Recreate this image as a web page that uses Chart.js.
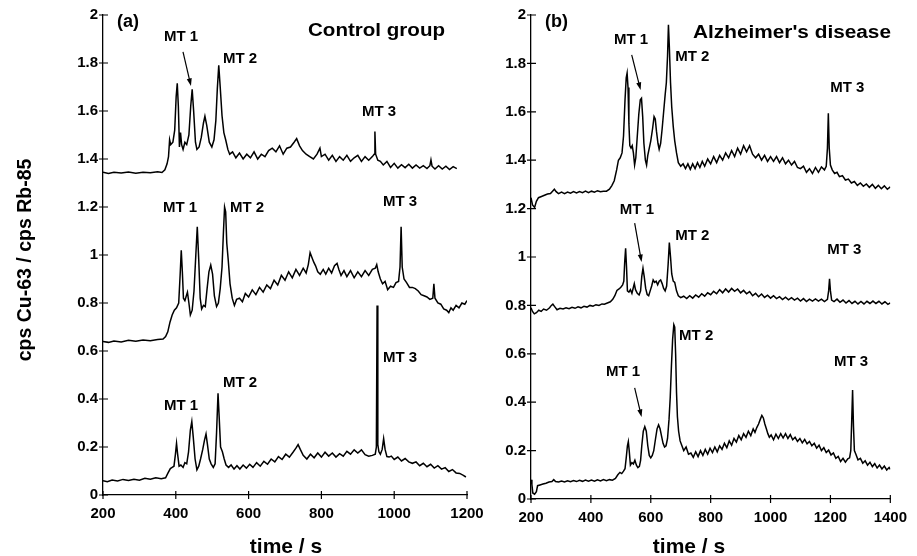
<!DOCTYPE html>
<html>
<head>
<meta charset="utf-8">
<script src="https://cdn.jsdelivr.net/npm/chart.js@4.4.0/dist/chart.umd.min.js"></script>
<style>
  html, body { margin: 0; background: #fff; }
  #wrap { position: relative; width: 917px; height: 556px; overflow: hidden; }
  canvas { position: absolute; top: 0; }
  #left  { left: 0; }
  #right { left: 480px; }
</style>
</head>
<body>
<div id="wrap">
  <canvas id="left" width="500" height="556"></canvas>
  <canvas id="right" width="437" height="556"></canvas>
</div>
<script>
'use strict';

// ── Data (time / s, cps Cu-63 / cps Rb-85) ────────────
const yTicks      = [0, 0.2, 0.4, 0.6, 0.8, 1, 1.2, 1.4, 1.6, 1.8, 2];
const yTickLabels = ['0', '0.2', '0.4', '0.6', '0.8', '1', '1.2', '1.4', '1.6', '1.8', '2'];
const xTicksCtrl  = [200, 400, 600, 800, 1000, 1200];
const xTicksAd    = [200, 400, 600, 800, 1000, 1200, 1400];

// (a) control group, three traces
const ctrlTop = [[200,1.345],[215,1.34],[230,1.345],[250,1.342],[270,1.346],[290,1.341],[310,1.345],[330,1.343],[350,1.347],[362,1.344],[370,1.355],[376,1.38],[380,1.41],[383,1.48],[386,1.46],[392,1.47],[397,1.52],[401,1.66],[404,1.715],[407,1.62],[410,1.45],[413,1.51],[416,1.46],[420,1.44],[425,1.47],[430,1.46],[436,1.5],[441,1.62],[445,1.69],[449,1.6],[454,1.47],[458,1.44],[464,1.45],[470,1.49],[476,1.55],[480,1.578],[485,1.54],[492,1.47],[499,1.45],[505,1.48],[510,1.56],[514,1.69],[518,1.79],[522,1.7],[527,1.58],[532,1.51],[537,1.48],[543,1.44],[548,1.42],[556,1.43],[565,1.405],[575,1.425],[585,1.4],[595,1.42],[605,1.405],[615,1.43],[625,1.4],[635,1.42],[645,1.41],[655,1.435],[665,1.445],[675,1.43],[685,1.455],[695,1.42],[705,1.445],[715,1.45],[725,1.47],[732,1.485],[740,1.455],[748,1.435],[758,1.42],[768,1.41],[778,1.4],[788,1.42],[796,1.445],[800,1.41],[810,1.42],[820,1.395],[830,1.415],[840,1.39],[850,1.41],[860,1.395],[870,1.415],[880,1.39],[890,1.405],[900,1.415],[910,1.39],[920,1.41],[930,1.395],[940,1.41],[945,1.42],[947,1.515],[949,1.42],[955,1.395],[962,1.39],[970,1.375],[980,1.39],[990,1.365],[1000,1.382],[1010,1.362],[1020,1.376],[1030,1.364],[1040,1.378],[1050,1.362],[1060,1.375],[1070,1.362],[1080,1.372],[1090,1.36],[1098,1.372],[1101,1.396],[1104,1.37],[1112,1.358],[1122,1.372],[1132,1.358],[1142,1.37],[1152,1.356],[1162,1.368],[1172,1.36]];
const ctrlMid = [[200,0.64],[215,0.636],[230,0.642],[250,0.638],[270,0.645],[290,0.641],[310,0.646],[330,0.643],[350,0.648],[365,0.65],[372,0.66],[378,0.68],[384,0.72],[390,0.75],[396,0.77],[402,0.78],[408,0.8],[412,0.92],[415,1.02],[418,0.93],[421,0.82],[425,0.81],[429,0.83],[432,0.845],[436,0.8],[440,0.75],[445,0.77],[450,0.85],[455,1.0],[459,1.118],[463,0.98],[467,0.82],[471,0.775],[476,0.79],[481,0.785],[486,0.86],[491,0.93],[496,0.958],[501,0.92],[506,0.83],[512,0.785],[517,0.8],[522,0.86],[527,0.95],[531,1.1],[534,1.2],[537,1.18],[540,1.05],[544,0.98],[549,0.88],[555,0.82],[561,0.79],[567,0.815],[575,0.82],[583,0.805],[591,0.84],[600,0.825],[610,0.855],[620,0.835],[630,0.865],[640,0.845],[650,0.875],[660,0.86],[670,0.895],[680,0.875],[690,0.915],[700,0.895],[710,0.93],[720,0.905],[730,0.94],[740,0.915],[750,0.945],[758,0.925],[764,0.96],[769,1.01],[774,0.99],[779,0.97],[784,0.955],[790,0.93],[797,0.92],[805,0.94],[812,0.92],[820,0.945],[828,0.925],[836,0.955],[843,0.965],[848,0.94],[854,0.915],[862,0.935],[870,0.91],[880,0.935],[890,0.905],[900,0.93],[910,0.91],[920,0.935],[930,0.915],[940,0.94],[948,0.945],[952,0.96],[956,0.93],[962,0.9],[968,0.88],[975,0.89],[982,0.855],[990,0.87],[998,0.865],[1005,0.885],[1012,0.89],[1016,0.95],[1019,1.118],[1022,0.95],[1027,0.9],[1034,0.885],[1042,0.865],[1050,0.865],[1058,0.86],[1066,0.85],[1074,0.835],[1082,0.83],[1090,0.825],[1098,0.815],[1106,0.82],[1109,0.88],[1112,0.82],[1120,0.8],[1128,0.795],[1136,0.775],[1144,0.77],[1150,0.76],[1156,0.78],[1162,0.77],[1170,0.79],[1178,0.78],[1186,0.8],[1194,0.795],[1200,0.81]];
const ctrlBot = [[200,0.06],[212,0.055],[225,0.062],[240,0.058],[255,0.065],[270,0.06],[285,0.066],[300,0.062],[315,0.07],[330,0.066],[345,0.072],[360,0.068],[372,0.072],[378,0.09],[385,0.11],[390,0.115],[395,0.12],[399,0.17],[402,0.215],[405,0.17],[409,0.12],[414,0.125],[420,0.115],[425,0.135],[430,0.13],[435,0.18],[440,0.27],[444,0.306],[448,0.24],[453,0.15],[458,0.105],[463,0.12],[468,0.15],[474,0.19],[479,0.23],[483,0.254],[487,0.21],[492,0.15],[497,0.13],[503,0.115],[508,0.13],[512,0.26],[516,0.424],[519,0.33],[523,0.2],[528,0.18],[533,0.15],[538,0.125],[545,0.115],[552,0.125],[560,0.108],[568,0.122],[576,0.108],[585,0.125],[594,0.112],[603,0.128],[612,0.115],[622,0.135],[632,0.12],[642,0.14],[652,0.128],[662,0.15],[672,0.138],[682,0.16],[692,0.148],[702,0.17],[712,0.158],[722,0.178],[730,0.195],[736,0.21],[742,0.19],[750,0.165],[760,0.15],[770,0.17],[780,0.155],[790,0.175],[800,0.158],[810,0.178],[820,0.162],[830,0.175],[840,0.158],[850,0.172],[860,0.162],[870,0.182],[880,0.17],[890,0.188],[900,0.175],[910,0.188],[920,0.168],[930,0.162],[940,0.165],[948,0.17],[951,0.2],[953,0.79],[955,0.21],[958,0.18],[962,0.17],[967,0.19],[971,0.235],[975,0.19],[980,0.16],[986,0.158],[992,0.162],[1000,0.148],[1010,0.158],[1020,0.142],[1030,0.152],[1040,0.138],[1050,0.132],[1060,0.138],[1070,0.122],[1080,0.132],[1090,0.118],[1100,0.128],[1110,0.112],[1120,0.122],[1130,0.108],[1140,0.114],[1150,0.098],[1160,0.106],[1170,0.092],[1180,0.09],[1190,0.082],[1197,0.075]];

// (b) Alzheimer's disease, three traces
const adTop = [[200,1.245],[205,1.215],[212,1.205],[218,1.23],[225,1.245],[235,1.25],[245,1.255],[255,1.26],[265,1.262],[272,1.272],[278,1.28],[284,1.27],[292,1.262],[302,1.268],[312,1.262],[322,1.268],[332,1.264],[342,1.27],[352,1.265],[362,1.27],[372,1.266],[382,1.272],[392,1.266],[402,1.272],[412,1.268],[422,1.274],[432,1.27],[442,1.272],[452,1.272],[462,1.28],[470,1.295],[478,1.315],[486,1.36],[492,1.4],[498,1.41],[504,1.43],[509,1.5],[514,1.65],[518,1.74],[521,1.76],[524,1.7],[527,1.55],[530,1.46],[534,1.45],[538,1.46],[542,1.43],[546,1.38],[550,1.41],[555,1.5],[560,1.59],[565,1.65],[569,1.656],[573,1.58],[577,1.47],[582,1.4],[586,1.38],[590,1.42],[595,1.45],[600,1.48],[606,1.53],[611,1.58],[615,1.57],[619,1.52],[624,1.47],[628,1.445],[633,1.47],[638,1.53],[643,1.6],[648,1.67],[652,1.72],[656,1.83],[659,1.96],[662,1.87],[666,1.72],[670,1.62],[675,1.54],[680,1.48],[686,1.43],[692,1.39],[700,1.375],[708,1.385],[716,1.365],[724,1.385],[732,1.362],[740,1.385],[748,1.365],[756,1.39],[764,1.37],[772,1.395],[780,1.375],[790,1.405],[800,1.385],[810,1.415],[820,1.39],[830,1.42],[840,1.4],[850,1.43],[860,1.41],[870,1.44],[880,1.415],[890,1.45],[900,1.425],[910,1.46],[920,1.435],[930,1.46],[940,1.425],[950,1.41],[960,1.425],[970,1.4],[980,1.42],[990,1.395],[1000,1.415],[1010,1.395],[1020,1.415],[1030,1.39],[1040,1.41],[1050,1.385],[1060,1.4],[1070,1.38],[1080,1.395],[1090,1.37],[1100,1.365],[1110,1.375],[1120,1.35],[1130,1.365],[1140,1.345],[1150,1.37],[1160,1.35],[1170,1.372],[1180,1.36],[1186,1.375],[1190,1.45],[1193,1.594],[1196,1.45],[1200,1.38],[1206,1.36],[1214,1.345],[1222,1.35],[1230,1.332],[1240,1.336],[1250,1.318],[1260,1.322],[1270,1.306],[1280,1.312],[1290,1.296],[1300,1.306],[1310,1.292],[1320,1.302],[1330,1.288],[1340,1.3],[1350,1.284],[1360,1.296],[1370,1.282],[1380,1.294],[1390,1.28],[1400,1.29]];
const adMid = [[200,0.79],[205,0.775],[211,0.765],[218,0.77],[226,0.78],[234,0.775],[242,0.785],[252,0.78],[262,0.79],[268,0.8],[273,0.805],[279,0.795],[287,0.782],[297,0.788],[307,0.785],[317,0.79],[327,0.786],[337,0.792],[347,0.788],[357,0.794],[367,0.79],[377,0.796],[387,0.793],[397,0.8],[407,0.797],[417,0.803],[427,0.8],[437,0.806],[445,0.805],[455,0.81],[465,0.815],[473,0.825],[480,0.84],[487,0.862],[494,0.868],[500,0.875],[506,0.885],[510,0.9],[513,0.98],[516,1.036],[519,0.96],[522,0.86],[527,0.855],[532,0.865],[537,0.85],[541,0.87],[545,0.89],[549,0.865],[555,0.85],[561,0.843],[566,0.86],[570,0.92],[574,0.953],[578,0.92],[583,0.87],[588,0.845],[593,0.84],[598,0.86],[603,0.88],[608,0.905],[613,0.895],[618,0.9],[623,0.885],[628,0.9],[633,0.905],[638,0.89],[643,0.87],[648,0.86],[653,0.88],[658,0.97],[662,1.06],[666,1.0],[670,0.93],[675,0.9],[680,0.895],[686,0.86],[692,0.84],[700,0.832],[710,0.838],[720,0.828],[730,0.84],[740,0.83],[750,0.843],[760,0.834],[770,0.848],[780,0.838],[790,0.852],[800,0.844],[810,0.858],[820,0.848],[830,0.865],[840,0.852],[850,0.868],[860,0.855],[870,0.87],[880,0.858],[890,0.868],[900,0.852],[910,0.862],[920,0.848],[930,0.857],[940,0.84],[950,0.85],[960,0.836],[970,0.847],[980,0.833],[990,0.842],[1000,0.83],[1010,0.84],[1020,0.828],[1030,0.836],[1040,0.824],[1050,0.834],[1060,0.823],[1070,0.832],[1080,0.822],[1090,0.83],[1100,0.818],[1110,0.828],[1120,0.816],[1130,0.826],[1140,0.818],[1150,0.827],[1160,0.818],[1170,0.826],[1180,0.816],[1190,0.825],[1194,0.86],[1197,0.91],[1200,0.86],[1204,0.822],[1212,0.816],[1222,0.826],[1232,0.813],[1242,0.822],[1252,0.81],[1262,0.82],[1272,0.808],[1282,0.817],[1292,0.806],[1302,0.816],[1312,0.806],[1322,0.817],[1332,0.808],[1342,0.818],[1352,0.808],[1362,0.817],[1372,0.806],[1382,0.815],[1392,0.804],[1400,0.81]];
const adBot = [[200,0.08],[203,0.06],[206,0.025],[212,0.02],[218,0.03],[222,0.055],[230,0.058],[240,0.062],[250,0.065],[260,0.07],[270,0.072],[276,0.08],[282,0.072],[292,0.07],[302,0.074],[312,0.07],[322,0.075],[332,0.071],[342,0.076],[352,0.072],[362,0.077],[372,0.073],[382,0.078],[392,0.074],[402,0.078],[412,0.074],[422,0.079],[432,0.075],[442,0.08],[452,0.076],[462,0.08],[472,0.078],[482,0.085],[490,0.1],[497,0.11],[503,0.105],[509,0.115],[514,0.125],[518,0.17],[522,0.22],[525,0.237],[528,0.2],[532,0.14],[537,0.15],[542,0.145],[547,0.16],[552,0.14],[557,0.13],[562,0.135],[566,0.16],[570,0.22],[575,0.28],[580,0.299],[585,0.28],[590,0.22],[595,0.18],[600,0.17],[605,0.18],[610,0.2],[616,0.25],[621,0.29],[626,0.306],[631,0.29],[636,0.26],[641,0.23],[646,0.215],[651,0.22],[656,0.25],[661,0.33],[665,0.42],[669,0.55],[673,0.66],[677,0.72],[680,0.71],[683,0.6],[686,0.44],[689,0.34],[693,0.28],[698,0.24],[704,0.22],[710,0.2],[718,0.215],[726,0.185],[734,0.19],[742,0.172],[750,0.195],[758,0.175],[766,0.2],[774,0.18],[782,0.205],[790,0.185],[798,0.21],[806,0.192],[814,0.215],[822,0.195],[830,0.22],[838,0.205],[846,0.23],[854,0.212],[862,0.24],[870,0.222],[878,0.25],[886,0.235],[894,0.262],[902,0.245],[910,0.27],[918,0.255],[926,0.28],[934,0.262],[942,0.29],[948,0.275],[954,0.295],[960,0.31],[966,0.33],[971,0.345],[976,0.335],[981,0.31],[986,0.29],[991,0.27],[996,0.255],[1002,0.265],[1010,0.245],[1018,0.268],[1026,0.25],[1034,0.27],[1042,0.252],[1050,0.27],[1058,0.25],[1066,0.266],[1074,0.245],[1082,0.255],[1090,0.238],[1098,0.25],[1106,0.232],[1114,0.246],[1122,0.228],[1130,0.238],[1138,0.22],[1146,0.23],[1154,0.21],[1162,0.222],[1170,0.2],[1178,0.212],[1186,0.192],[1194,0.202],[1202,0.182],[1210,0.19],[1218,0.168],[1226,0.176],[1234,0.155],[1242,0.168],[1250,0.152],[1258,0.166],[1264,0.17],[1268,0.2],[1271,0.32],[1274,0.45],[1277,0.3],[1280,0.2],[1285,0.185],[1292,0.162],[1300,0.168],[1308,0.148],[1316,0.158],[1324,0.14],[1332,0.152],[1340,0.134],[1348,0.146],[1356,0.128],[1364,0.14],[1372,0.124],[1380,0.136],[1388,0.12],[1396,0.13],[1400,0.122]];

// ── Annotations (text, time, ratio) ───────────────────
const ctrlNotes  = [['MT 1',367.6,1.908],['MT 2',529.6,1.817],['MT 3',911.5,1.596],['MT 1',364.8,1.196],['MT 2',548.9,1.196],['MT 3',969.2,1.221],['MT 1',367.6,0.371],['MT 2',529.6,0.467],['MT 3',969.2,0.571]];
const ctrlArrows = [[419.8,1.846,441.7,1.704]];
const adNotes    = [['MT 1',477,1.897],['MT 2',681.4,1.826],['MT 3',1199,1.698],['MT 1',496.7,1.194],['MT 2',681.4,1.087],['MT 3',1189,1.029],['MT 1',450.6,0.525],['MT 2',694.6,0.674],['MT 3',1212,0.566]];
const adArrows   = [[536.3,1.835,566,1.690],[546.2,1.140,569.3,0.979],[546.2,0.459,569.3,0.339]];

// ── Helpers ───────────────────────────────────────────
const FAM = '"Liberation Sans", Arial, Helvetica, sans-serif';
const toXY = arr => arr.map(([x, y]) => ({ x, y }));

function trace(data) {
  return {
    data: toXY(data),
    borderColor: '#000',
    borderWidth: 1.5,
    pointRadius: 0,
    tension: 0,
    fill: false,
  };
}

function drawText(ctx, text, x, y, size, width) {
  ctx.save();
  ctx.font = `bold ${size}px ${FAM}`;
  ctx.translate(x, y);
  if (width) ctx.scale(width / ctx.measureText(text).width, 1);
  ctx.fillText(text, 0, 0);
  ctx.restore();
}

function drawArrow(ctx, x1, y1, x2, y2) {
  const a = Math.atan2(y2 - y1, x2 - x1), h = 8;
  ctx.beginPath();
  ctx.moveTo(x1, y1);
  ctx.lineTo(x2 - Math.cos(a) * h * 0.7, y2 - Math.sin(a) * h * 0.7);
  ctx.stroke();
  ctx.beginPath();
  ctx.moveTo(x2, y2);
  ctx.lineTo(x2 - h * Math.cos(a - 0.32), y2 - h * Math.sin(a - 0.32));
  ctx.lineTo(x2 - h * Math.cos(a + 0.32), y2 - h * Math.sin(a + 0.32));
  ctx.closePath();
  ctx.fill();
}

// ticks that cross the axis lines
const crossTicks = {
  id: 'crossTicks',
  afterDraw(chart) {
    const { ctx, chartArea: a, scales: { x, y } } = chart;
    ctx.save();
    ctx.strokeStyle = '#000';
    ctx.lineWidth = 1.2;
    ctx.beginPath();
    x.ticks.forEach(t => {
      const p = x.getPixelForValue(t.value);
      ctx.moveTo(p, a.bottom - 4); ctx.lineTo(p, a.bottom + 4);
    });
    y.ticks.forEach(t => {
      const p = y.getPixelForValue(t.value);
      ctx.moveTo(a.left - 4, p); ctx.lineTo(a.left + 5, p);
    });
    ctx.stroke();
    ctx.restore();
  }
};

// panel letters, titles, MT labels and arrows
const overlay = {
  id: 'overlay',
  afterDraw(chart, args, o) {
    const { ctx, scales: { x, y } } = chart;
    ctx.save();
    ctx.fillStyle = '#000';
    ctx.strokeStyle = '#000';
    ctx.lineWidth = 1.2;
    ctx.textBaseline = 'alphabetic';
    ctx.textAlign = 'left';
    drawText(ctx, o.panel, o.panelX, 27, 18);
    drawText(ctx, o.title, o.titleX, o.titleY, 18, o.titleW);

    ctx.textBaseline = 'middle';
    o.notes.forEach(([t, vx, vy]) => {
      drawText(ctx, t, x.getPixelForValue(vx), y.getPixelForValue(vy), 15);
    });
    o.arrows.forEach(([x1, y1, x2, y2]) => {
      drawArrow(ctx, x.getPixelForValue(x1), y.getPixelForValue(y1),
                     x.getPixelForValue(x2), y.getPixelForValue(y2));
    });

    ctx.textBaseline = 'alphabetic';
    ctx.textAlign = 'center';
    drawText(ctx, 'time / s', o.xTitleX, 553, 21);
    if (o.yTitle) {
      ctx.save();
      ctx.translate(31, 260);
      ctx.rotate(-Math.PI / 2);
      drawText(ctx, o.yTitle, 0, 0, 19.5);
      ctx.restore();
    }
    ctx.restore();
  }
};

function makeChart(id, cfg) {
  const tickFont = { family: FAM, size: 15, weight: 'bold' };
  return new Chart(document.getElementById(id), {
    type: 'line',
    data: { datasets: cfg.traces.map(trace) },
    options: {
      responsive: false,
      animation: false,
      events: [],
      layout: { padding: { left: 0, top: 15, right: cfg.padRight, bottom: 0 } },
      plugins: {
        legend: { display: false },
        tooltip: { enabled: false },
        overlay: cfg.overlay,
      },
      scales: {
        x: {
          type: 'linear',
          min: 200,
          max: cfg.xMax,
          afterBuildTicks: s => { s.ticks = cfg.xTicks.map(v => ({ value: v })); },
          afterFit: s => { s.height = cfg.xHeight; },
          ticks: {
            font: tickFont, color: '#000', padding: 10, maxRotation: 0, autoSkip: false,
            callback: v => String(v),
          },
          grid: { display: false, drawTicks: false },
          border: { color: '#000', width: 1.3 },
        },
        y: {
          min: 0,
          max: 2,
          afterBuildTicks: s => { s.ticks = yTicks.map(v => ({ value: v })); },
          afterFit: s => { s.width = cfg.yWidth; },
          ticks: {
            font: tickFont, color: '#000', padding: 5, autoSkip: false,
            callback: v => yTickLabels[yTicks.indexOf(v)],
          },
          grid: { display: false, drawTicks: false },
          border: { color: '#000', width: 1.3 },
        },
      },
    },
    plugins: [crossTicks, overlay],
  });
}

makeChart('left', {
  traces: [ctrlTop, ctrlMid, ctrlBot],
  xMax: 1200, xTicks: xTicksCtrl,
  yWidth: 103, xHeight: 61, padRight: 33,
  overlay: {
    panel: '(a)', panelX: 117,
    title: 'Control group', titleX: 308, titleY: 36, titleW: 137,
    notes: ctrlNotes, arrows: ctrlArrows,
    xTitleX: 286, yTitle: 'cps Cu-63 / cps Rb-85',
  },
});

makeChart('right', {
  traces: [adTop, adMid, adBot],
  xMax: 1400, xTicks: xTicksAd,
  yWidth: 51, xHeight: 57, padRight: 22,
  overlay: {
    panel: '(b)', panelX: 65,
    title: "Alzheimer's disease", titleX: 213, titleY: 38, titleW: 198,
    notes: adNotes, arrows: adArrows,
    xTitleX: 209, yTitle: null,
  },
});
</script>
</body>
</html>
